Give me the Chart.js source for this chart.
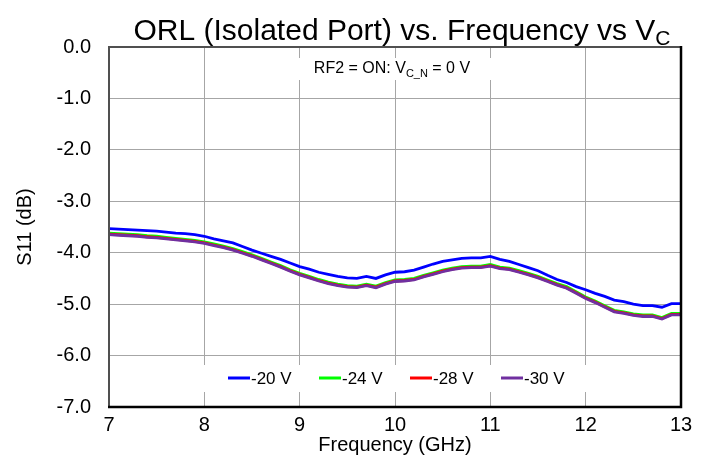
<!DOCTYPE html>
<html>
<head>
<meta charset="utf-8">
<script src="https://cdn.jsdelivr.net/npm/chart.js@4/dist/chart.umd.min.js"></script>
<style>
    html, body { margin: 0; padding: 0; background: #fff; }
    #wrap { width: 707px; height: 470px; }
</style>
</head>
<body>
<div id="wrap"><canvas id="orlChart" width="707" height="470"></canvas></div>
<script>
// frequency points (GHz)
var freq = [7.0, 7.1, 7.2, 7.3, 7.4, 7.5, 7.6, 7.7, 7.8, 7.9,
    8.0, 8.1, 8.2, 8.3, 8.4, 8.5, 8.6, 8.7, 8.8, 8.9,
    9.0, 9.1, 9.2, 9.3, 9.4, 9.5, 9.6, 9.7, 9.8, 9.9,
    10.0, 10.1, 10.2, 10.3, 10.4, 10.5, 10.6, 10.7, 10.8, 10.9,
    11.0, 11.1, 11.2, 11.3, 11.4, 11.5, 11.6, 11.7, 11.8, 11.9,
    12.0, 12.1, 12.2, 12.3, 12.4, 12.5, 12.6, 12.7, 12.8, 12.9,
    13.0];

// S11 (dB) per control voltage
var s11_20V = [-3.53, -3.54, -3.55, -3.56, -3.57, -3.58, -3.60, -3.62, -3.63, -3.65,
    -3.68, -3.73, -3.77, -3.81, -3.88, -3.95, -4.01, -4.07, -4.13, -4.20,
    -4.27, -4.32, -4.38, -4.42, -4.46, -4.49, -4.50, -4.46, -4.50, -4.43,
    -4.38, -4.37, -4.34, -4.28, -4.22, -4.17, -4.14, -4.11, -4.10, -4.10,
    -4.07, -4.13, -4.17, -4.23, -4.29, -4.35, -4.44, -4.52, -4.58, -4.66,
    -4.72, -4.79, -4.85, -4.92, -4.95, -5.00, -5.03, -5.03, -5.06, -4.99,
    -4.99];
var s11_24V = [-3.62, -3.63, -3.64, -3.65, -3.67, -3.68, -3.70, -3.72, -3.74, -3.76,
    -3.79, -3.83, -3.87, -3.92, -3.98, -4.04, -4.11, -4.18, -4.25, -4.33,
    -4.40, -4.46, -4.52, -4.57, -4.61, -4.64, -4.65, -4.61, -4.65, -4.58,
    -4.53, -4.52, -4.50, -4.44, -4.39, -4.34, -4.30, -4.27, -4.26, -4.26,
    -4.23, -4.28, -4.30, -4.35, -4.40, -4.46, -4.53, -4.60, -4.66, -4.76,
    -4.86, -4.94, -5.03, -5.12, -5.15, -5.19, -5.21, -5.21, -5.26, -5.18,
    -5.18];
var s11_28V = [-3.64, -3.65, -3.66, -3.67, -3.69, -3.70, -3.72, -3.74, -3.76, -3.78,
    -3.81, -3.85, -3.89, -3.94, -4.00, -4.06, -4.13, -4.20, -4.27, -4.35,
    -4.42, -4.48, -4.54, -4.59, -4.63, -4.66, -4.67, -4.63, -4.67, -4.60,
    -4.55, -4.54, -4.52, -4.46, -4.41, -4.36, -4.32, -4.29, -4.28, -4.28,
    -4.25, -4.30, -4.32, -4.37, -4.42, -4.48, -4.55, -4.62, -4.68, -4.78,
    -4.88, -4.96, -5.05, -5.14, -5.17, -5.21, -5.23, -5.23, -5.28, -5.20,
    -5.20];
var s11_30V = [-3.65, -3.66, -3.67, -3.68, -3.70, -3.71, -3.73, -3.75, -3.77, -3.79,
    -3.82, -3.86, -3.90, -3.95, -4.01, -4.07, -4.14, -4.21, -4.28, -4.36,
    -4.43, -4.49, -4.55, -4.60, -4.64, -4.67, -4.68, -4.64, -4.68, -4.61,
    -4.56, -4.55, -4.53, -4.47, -4.42, -4.37, -4.33, -4.30, -4.29, -4.29,
    -4.26, -4.31, -4.33, -4.38, -4.43, -4.49, -4.56, -4.63, -4.69, -4.79,
    -4.89, -4.97, -5.06, -5.15, -5.18, -5.22, -5.24, -5.24, -5.29, -5.21,
    -5.21];

var seriesLabels = ['-20 V', '-24 V', '-28 V', '-30 V'];
var seriesColors = ['#0000ff', '#00ff00', '#ff0000', '#7030a0'];

var FONT = '"Liberation Sans", Arial, sans-serif';

(function () {
    var seriesValues = [s11_20V, s11_24V, s11_28V, s11_30V];

    function toPoints(vals) {
        var pts = [];
        for (var i = 0; i < freq.length; i++) {
            pts.push({x: freq[i], y: vals[i]});
        }
        return pts;
    }

    // draws text with a lowered, smaller subscript part: parts = [[text, isSub], ...]
    function drawSubText(ctx, parts, cx, baseline, size, subSize, subDrop) {
        var total = 0, i;
        for (i = 0; i < parts.length; i++) {
            ctx.font = (parts[i][1] ? subSize : size) + 'px ' + FONT;
            total += ctx.measureText(parts[i][0]).width;
        }
        var x = cx - total / 2;
        ctx.textAlign = 'left';
        ctx.textBaseline = 'alphabetic';
        for (i = 0; i < parts.length; i++) {
            ctx.font = (parts[i][1] ? subSize : size) + 'px ' + FONT;
            ctx.fillText(parts[i][0], x, baseline + (parts[i][1] ? subDrop : 0));
            x += ctx.measureText(parts[i][0]).width;
        }
    }

    var decor = {
        id: 'decor',
        beforeDatasetsDraw: function (chart) {
            var ctx = chart.ctx, a = chart.chartArea, xs = chart.scales.x;
            var mid = (a.left + a.right) / 2;
            ctx.save();
            // white boxes behind the note and the legend
            ctx.fillStyle = '#fff';
            ctx.fillRect(xs.getPixelForValue(8.95), a.top + 11, xs.getPixelForValue(11.05) - xs.getPixelForValue(8.95), 22);
            ctx.fillRect(xs.getPixelForValue(7.9), a.bottom - 42, xs.getPixelForValue(12.05) - xs.getPixelForValue(7.9), 27);
            ctx.fillStyle = '#000';
            drawSubText(ctx, [['RF2 = ON: V', false], ['C_N', true], [' = 0 V', false]], mid - 3, a.top + 26, 16, 11, 4);
            ctx.restore();
        },
        afterDraw: function (chart) {
            var ctx = chart.ctx, a = chart.chartArea;
            var mid = (a.left + a.right) / 2;
            ctx.save();
            // frame
            ctx.strokeStyle = '#505050';
            ctx.lineWidth = 2;
            ctx.beginPath();
            ctx.moveTo(a.left, a.bottom);
            ctx.lineTo(a.left, a.top);
            ctx.lineTo(a.right, a.top);
            ctx.stroke();
            ctx.strokeStyle = '#000';
            ctx.lineWidth = 2.5;
            ctx.beginPath();
            ctx.moveTo(a.right, a.top - 1);
            ctx.lineTo(a.right, a.bottom);
            ctx.lineTo(a.left - 1, a.bottom);
            ctx.stroke();

            // title
            ctx.fillStyle = '#000';
            drawSubText(ctx, [['ORL (Isolated Port) vs. Frequency vs V', false], ['C', true]], mid + 7, 40, 30, 21, 5);

            // legend row
            var startX = mid - 167;
            var y = a.bottom - 29;
            ctx.font = '17px ' + FONT;
            ctx.textAlign = 'left';
            ctx.textBaseline = 'middle';
            for (var i = 0; i < seriesLabels.length; i++) {
                var x0 = startX + i * 91;
                ctx.strokeStyle = seriesColors[i];
                ctx.lineWidth = 3;
                ctx.beginPath();
                ctx.moveTo(x0, y);
                ctx.lineTo(x0 + 22, y);
                ctx.stroke();
                ctx.fillStyle = '#000';
                ctx.fillText(seriesLabels[i], x0 + 23, y + 1);
            }
            ctx.restore();
        }
    };

    var datasets = [];
    for (var i = 0; i < seriesValues.length; i++) {
        datasets.push({
            label: seriesLabels[i],
            data: toPoints(seriesValues[i]),
            borderColor: seriesColors[i],
            backgroundColor: seriesColors[i],
            borderWidth: 2.8,
            pointRadius: 0,
            fill: false,
            tension: 0,
            // later series sit on top, as in the original
            order: seriesValues.length - i
        });
    }

    var ctx = document.getElementById('orlChart').getContext('2d');
    var orlChart = new Chart(ctx, {
        type: 'line',
        data: {datasets: datasets},
        plugins: [decor],
        options: {
            responsive: false,
            animation: false,
            layout: {padding: {top: 47, right: 26, left: 0, bottom: 0}},
            plugins: {
                legend: {display: false},
                title: {display: false},
                tooltip: {enabled: false}
            },
            scales: {
                x: {
                    type: 'linear',
                    min: 7,
                    max: 13,
                    afterFit: function (scale) { scale.height = 63; },
                    ticks: {
                        stepSize: 1,
                        color: '#000',
                        padding: 6,
                        font: {family: FONT, size: 20}
                    },
                    grid: {color: '#a6a6a6', lineWidth: 1, drawTicks: false},
                    border: {display: false},
                    title: {
                        display: true,
                        text: 'Frequency (GHz)',
                        color: '#000',
                        font: {family: FONT, size: 20},
                        padding: {top: 0, bottom: 13}
                    }
                },
                y: {
                    min: -7,
                    max: 0,
                    afterFit: function (scale) { scale.width = 109; },
                    ticks: {
                        stepSize: 1,
                        color: '#000',
                        padding: 18,
                        font: {family: FONT, size: 20},
                        callback: function (v) { return v.toFixed(1); }
                    },
                    grid: {color: '#a6a6a6', lineWidth: 1, drawTicks: false},
                    border: {display: false},
                    title: {
                        display: true,
                        text: 'S11 (dB)',
                        color: '#000',
                        font: {family: FONT, size: 20},
                        padding: {top: 13, bottom: 0}
                    }
                }
            }
        }
    });
})();
</script>
</body>
</html>
